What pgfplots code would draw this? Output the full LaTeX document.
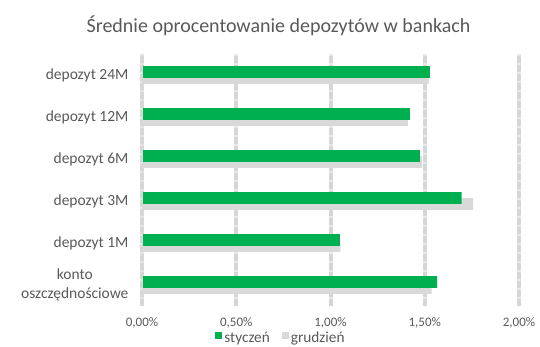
\documentclass[border=0pt]{standalone}
\usepackage{fontspec}
\setmainfont{Carlito}
\usepackage{pgfplots}
\pgfplotsset{compat=1.18}
\definecolor{txt}{HTML}{595959}
\definecolor{grn}{HTML}{00B050}
\definecolor{gry}{HTML}{D9D9D9}
\definecolor{grid}{HTML}{D6D6D6}
\definecolor{gridbg}{HTML}{E8E8E8}
\begin{document}
\begin{tikzpicture}
\useasboundingbox (0,0) rectangle (540pt,347pt);
\node[anchor=base, font=\fontsize{20}{24}\selectfont, text=txt, inner sep=0pt] at (278.5pt,314pt) {Średnie oprocentowanie depozytów w bankach};
\begin{axis}[
  at={(142pt,41pt)}, anchor=south west,
  scale only axis, width=377pt, height=252pt,
  xbar, bar width=11.6pt,
  xmin=0, xmax=2, ymin=-0.5, ymax=5.5,
  axis line style={draw=none},
  axis x line*=bottom, axis y line*=left,
  xtick={0,0.5,1,1.5,2},
  xticklabels={{0,00\%},{0,50\%},{1,00\%},{1,50\%},{2,00\%}},
  ytick={0,1,2,3,4,5},
  yticklabels={{konto\\oszczędnościowe},{depozyt 1M},{depozyt 3M},{depozyt 6M},{depozyt 12M},{depozyt 24M}},
  major tick length=0pt,
  xmajorgrids,
  major grid style={draw=grid, line width=4pt, dash pattern=on 7pt off 2pt,
    preaction={draw=gridbg, line width=4pt, solid}},
  xticklabel style={font=\fontsize{13}{15}\selectfont, text=txt, anchor=base, yshift=-21pt},
  yticklabel style={font=\fontsize{15.5}{19}\selectfont, text=txt, align=center, anchor=east, xshift=-10pt},
  legend style={at={(0.3687,-0.127)}, anchor=center, draw=none, fill=none, legend columns=2,
    font=\fontsize{15.3}{18}\selectfont, text=txt,
    /tikz/every even column/.append style={column sep=10pt}},
  legend image code/.code={\fill[#1] (-2pt,-1pt) rectangle (5pt,6pt);},
  reverse legend,
]
\addplot[fill=gry, draw=none, bar shift=-3pt] coordinates {(1.536,0) (1.053,1) (1.757,2) (1.486,3) (1.41,4) (1.52,5)};
\addlegendentry{grudzień}
\addplot[fill=grn, draw=none, bar shift=3pt] coordinates {(1.566,0) (1.05,1) (1.695,2) (1.474,3) (1.421,4) (1.527,5)};
\addlegendentry{styczeń}
\draw[draw=gry, line width=1.5pt] (axis cs:0,-0.5) -- (axis cs:0,5.5);
\end{axis}
\end{tikzpicture}
\end{document}
